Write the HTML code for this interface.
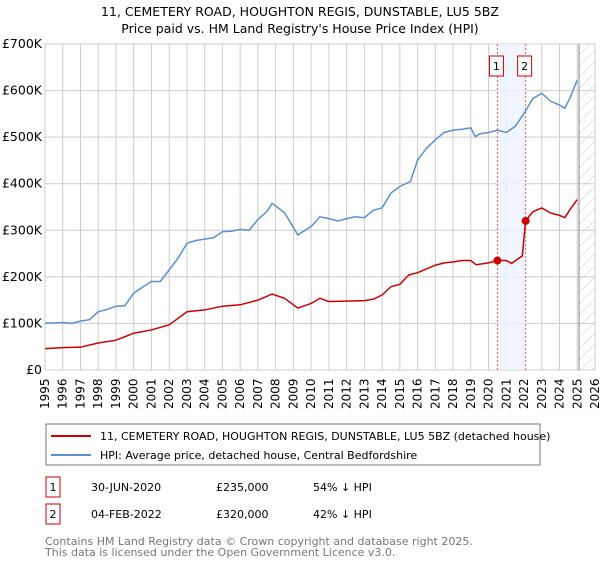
<!DOCTYPE html>
<html><head><meta charset="utf-8"><style>
body{margin:0;background:#fff;font-family:"Liberation Sans","DejaVu Sans",sans-serif;}
svg text{font-family:"DejaVu Sans","Liberation Sans",sans-serif;}
</style></head><body>
<svg id="chart" width="600" height="560" viewBox="0 0 600 560" xmlns="http://www.w3.org/2000/svg">
<defs><pattern id="hatch" width="8" height="8" patternUnits="userSpaceOnUse" patternTransform="rotate(45)"><line x1="0" y1="0" x2="0" y2="8" stroke="#ccc" stroke-width="1"/></pattern></defs>
<text x="300" y="16" text-anchor="middle" font-size="12.5" fill="#000">11, CEMETERY ROAD, HOUGHTON REGIS, DUNSTABLE, LU5 5BZ</text>
<text x="300" y="33" text-anchor="middle" font-size="12.5" fill="#000">Price paid vs. HM Land Registry's House Price Index (HPI)</text>
<g id="grid"></g><g id="marks"></g><g id="axes"></g>
<rect x="46" y="424" width="494" height="41" fill="#fff" stroke="#777"/>
<line x1="51" y1="436" x2="91" y2="436" stroke="#cc0000" stroke-width="2"/>
<text x="100" y="440" font-size="11">11, CEMETERY ROAD, HOUGHTON REGIS, DUNSTABLE, LU5 5BZ (detached house)</text>
<line x1="51" y1="455" x2="91" y2="455" stroke="#5b8fd4" stroke-width="2"/>
<text x="100" y="459" font-size="11">HPI: Average price, detached house, Central Bedfordshire</text>
<rect x="46" y="477" width="14" height="20" fill="#fff" stroke="#cc0000"/>
<text x="53" y="491" font-size="11" text-anchor="middle">1</text>
<text x="91" y="491" font-size="11">30-JUN-2020</text>
<text x="216" y="491" font-size="11">£235,000</text>
<text x="313" y="491" font-size="11">54% ↓ HPI</text>
<rect x="46" y="504" width="14" height="20" fill="#fff" stroke="#cc0000"/>
<text x="53" y="518" font-size="11" text-anchor="middle">2</text>
<text x="91" y="518" font-size="11">04-FEB-2022</text>
<text x="216" y="518" font-size="11">£320,000</text>
<text x="313" y="518" font-size="11">42% ↓ HPI</text>
<text x="45" y="545" font-size="11" fill="#777">Contains HM Land Registry data © Crown copyright and database right 2025.</text>
<text x="45" y="556" font-size="11" fill="#777">This data is licensed under the Open Government Licence v3.0.</text>
</svg>
<script>
const hpiYears=[1995,1995.5,1996,1996.5,1997,1997.5,1998,1998.5,1999,1999.5,2000,2000.5,2001,2001.5,2002,2002.5,2003,2003.5,2004,2004.5,2005,2005.5,2006,2006.5,2007,2007.5,2007.8,2008.5,2009.25,2010,2010.5,2011,2011.5,2012,2012.5,2013,2013.5,2014,2014.5,2015,2015.6,2016,2016.5,2017,2017.5,2018,2018.5,2019,2019.25,2019.5,2020,2020.5,2021,2021.5,2022,2022.5,2023,2023.5,2024,2024.3,2024.6,2025];
const hpiValues=[101,101,102,100,105,108,125,130,137,138,165,178,190,190,215,240,272,278,281,284,297,298,302,300,323,340,358,338,290,308,329,325,320,325,329,327,343,348,380,394,405,451,476,494,510,515,517,520,501,507,510,515,510,523,551,583,594,577,569,562,585,623];
const ppYears=[1995,1996,1997,1998,1999,2000,2001,2002,2003,2004,2005,2006,2007,2007.8,2008.5,2009.25,2010,2010.5,2011,2012,2013,2013.5,2014,2014.5,2015,2015.5,2016,2017,2017.5,2018,2018.5,2019,2019.3,2020,2020.5,2021,2021.3,2021.9,2022.09,2022.5,2023,2023.5,2024,2024.3,2024.6,2025];
const ppValues=[46,48,49,58,64,79,86,97,125,129,137,140,150,163,154,133,143,154,147,148,149,152,161,179,184,204,209,225,230,232,235,235,226,230,235,235,229,245,320,340,348,337,332,327,345,366];
const saleYears=[2020.5,2022.09];
const saleValues=[235,320];
const saleLabels=["1","2"];
const yTicks=[0,100,200,300,400,500,600,700];
const yTickLabels=["£0","£100K","£200K","£300K","£400K","£500K","£600K","£700K"];
const xTicks=[1995,1996,1997,1998,1999,2000,2001,2002,2003,2004,2005,2006,2007,2008,2009,2010,2011,2012,2013,2014,2015,2016,2017,2018,2019,2020,2021,2022,2023,2024,2025,2026];
const forecastStart=2025.1;

const L=45,R=595,T=44,B=370;
const X=y=>L+(y-1995)/(2026-1995)*(R-L);
const Y=v=>B-v/700*(B-T);
const NS="http://www.w3.org/2000/svg";
function mk(tag,attrs,parent){const e=document.createElementNS(NS,tag);for(const k in attrs)e.setAttribute(k,attrs[k]);parent.appendChild(e);return e;}
const grid=document.getElementById('grid'),marks=document.getElementById('marks'),axes=document.getElementById('axes');
mk('rect',{x:L,y:T,width:R-L,height:B-T,fill:'#fff',stroke:'#ccc'},grid);
xTicks.forEach(t=>{const l=mk('line',{x1:X(t),x2:X(t),y1:T,y2:B,stroke:'#ccc','stroke-width':1},grid);


const tx=mk('text',{x:0,y:0,'font-size':12,transform:`translate(${X(t)+4},${B+39}) rotate(-90)`},axes);tx.textContent=t;

});
yTicks.forEach((t,i)=>{const l=mk('line',{x1:L,x2:R,y1:Y(t),y2:Y(t),stroke:'#ccc','stroke-width':1},grid);


const tx=mk('text',{x:L-3,y:Y(t)+4,'font-size':12.5,'text-anchor':'end'},axes);tx.textContent=yTickLabels[i];

});
const band=mk('rect',{x:X(saleYears[0]),y:T,width:X(saleYears[1])-X(saleYears[0]),height:B-T,fill:'#eef3fc',opacity:0.8},grid);


const fc=mk('rect',{x:X(forecastStart),y:T,width:R-X(forecastStart),height:B-T,fill:'url(#hatch)'},grid);


mk('line',{x1:X(forecastStart),x2:X(forecastStart),y1:T,y2:B,stroke:'#888','stroke-width':1},grid);
saleYears.forEach((s,i)=>{const l=mk('line',{x1:X(s),x2:X(s),y1:T,y2:B,stroke:'#e06060','stroke-dasharray':'2,2','stroke-width':1},marks);


const bx=mk('rect',{x:X(s)-8,y:T+12,width:14,height:20,fill:'#fff',stroke:'#cc0000'},marks);


const t=mk('text',{x:X(s)-1,y:T+26,'font-size':11,'text-anchor':'middle'},marks);t.textContent=saleLabels[i];});
const hp=mk('polyline',{points:hpiYears.map((y,i)=>X(y)+','+Y(hpiValues[i])).join(' '),fill:'none',stroke:'#5b8fd4','stroke-width':1.5},marks);


const pp=mk('polyline',{points:ppYears.map((y,i)=>X(y)+','+Y(ppValues[i])).join(' '),fill:'none',stroke:'#cc0000','stroke-width':1.5},marks);


saleYears.forEach((s,i)=>{const c=mk('circle',{cx:X(s),cy:Y(saleValues[i]),r:4,fill:'#cc0000'},marks);

});
</script>
</body></html>
